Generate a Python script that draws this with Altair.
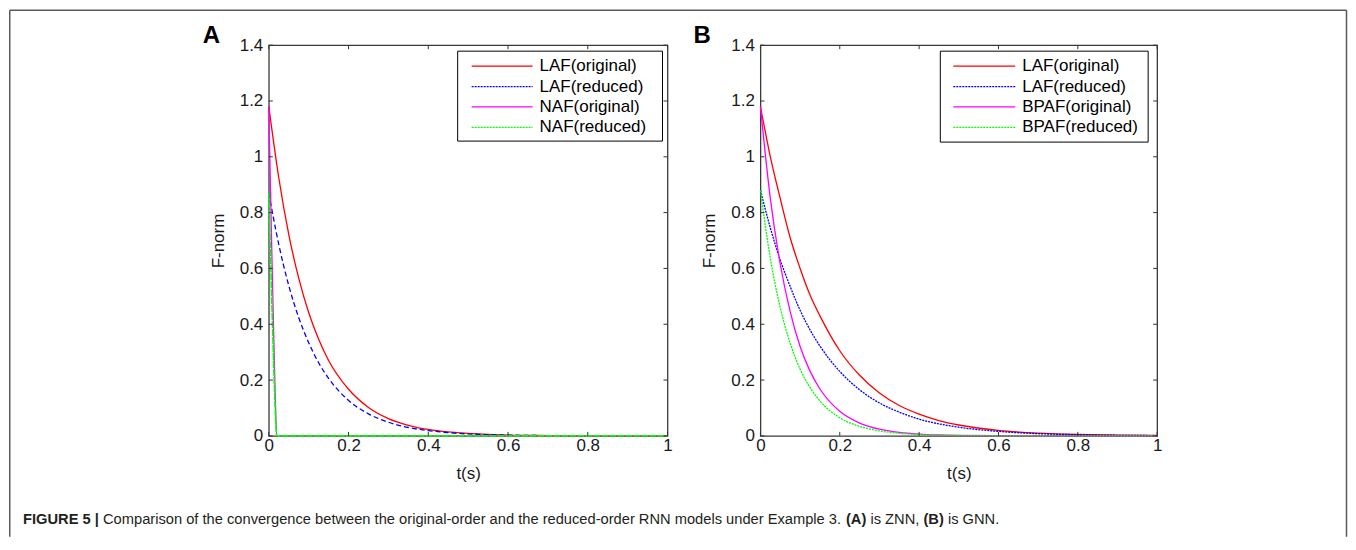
import altair as alt
import pandas as pd

# ---------------- data ----------------
x_ticks = [0, 0.2, 0.4, 0.6, 0.8, 1]
y_ticks = [0, 0.2, 0.4, 0.6, 0.8, 1, 1.2, 1.4]

t_main = [0, 0.025, 0.05, 0.075, 0.1, 0.125, 0.15, 0.2, 0.25, 0.3, 0.35,
          0.4, 0.45, 0.5, 0.6, 0.7, 0.8, 0.9, 1.0]

# Panel A (ZNN)
a_laf_orig = [1.18, 0.925, 0.722, 0.565, 0.442, 0.346, 0.270, 0.167, 0.102, 0.062, 0.038,
              0.023, 0.014, 0.009, 0.003, 0.0012, 0.0005, 0.0002, 0.0001]
a_laf_red = [0.87, 0.686, 0.539, 0.424, 0.334, 0.262, 0.206, 0.127, 0.079, 0.049, 0.030,
             0.019, 0.0115, 0.007, 0.0027, 0.001, 0.0004, 0.0002, 0.0001]
t_naf = [0, 0.004, 0.008, 0.012, 0.016, 0.02, 0.03, 0.1, 0.2, 0.4, 0.6, 0.8, 1.0]
a_naf_orig = [1.18, 0.90, 0.63, 0.38, 0.15, 0.0, 0, 0, 0, 0, 0, 0, 0]
a_naf_red = [0.87, 0.66, 0.46, 0.27, 0.10, 0.0, 0, 0, 0, 0, 0, 0, 0]

# Panel B (GNN)
b_laf_orig = [1.18, 1.00, 0.85, 0.71, 0.60, 0.505, 0.43, 0.305, 0.217, 0.154, 0.109,
              0.078, 0.055, 0.039, 0.0198, 0.010, 0.005, 0.0026, 0.0013]
b_laf_red = [0.88, 0.745, 0.63, 0.535, 0.45, 0.38, 0.322, 0.231, 0.165, 0.118, 0.085,
             0.060, 0.043, 0.031, 0.016, 0.008, 0.0042, 0.0021, 0.0011]
b_bpaf_orig = [1.18, 0.85, 0.615, 0.445, 0.32, 0.232, 0.168, 0.088, 0.046, 0.024, 0.0125,
               0.0065, 0.0034, 0.0018, 0.0005, 0.0001, 0, 0, 0]
b_bpaf_red = [0.88, 0.636, 0.459, 0.332, 0.239, 0.173, 0.125, 0.065, 0.034, 0.018, 0.0093,
              0.0049, 0.0025, 0.0013, 0.0004, 0.0001, 0, 0, 0]

names_A = ["LAF(original)", "LAF(reduced)", "NAF(original)", "NAF(reduced)"]
names_B = ["LAF(original)", "LAF(reduced)", "BPAF(original)", "BPAF(reduced)"]

caption_parts = [
    ("FIGURE 5 |", "bold"),
    ("Comparison of the convergence between the original-order and the reduced-order RNN models under Example 3.", "normal"),
    ("(A)", "bold"),
    ("is ZNN,", "normal"),
    ("(B)", "bold"),
    ("is GNN.", "normal"),
]

# ---------------- styling ----------------
FONT = "Liberation Sans, Arial, sans-serif"
W_A, W_B, H = 399, 397, 391
RED, BLUE, MAG, GRN = "#ff0000", "#0000ff", "#ff00ff", "#00ff00"

styles_A = [(RED, [1, 0], 1.3), (BLUE, [5, 3], 1.3), (MAG, [1, 0], 1.3), (GRN, [7, 1], 1.6)]
styles_B = [(RED, [1, 0], 1.3), (BLUE, [2, 1], 1.3), (MAG, [1, 0], 1.3), (GRN, [2, 1], 1.3)]
legend_dash = [[1, 0], [2, 1], [1, 0], [2, 1]]

dummy = pd.DataFrame({"d": [0]})


def x_enc():
    return alt.X("t:Q", scale=alt.Scale(domain=[0, 1], nice=False, zero=False),
                 axis=alt.Axis(values=x_ticks, format="~g", title="t(s)", labelFlush=False,
                               labelPadding=2, titlePadding=12))


def y_enc():
    return alt.Y("v:Q", scale=alt.Scale(domain=[0, 1.4], nice=False),
                 axis=alt.Axis(values=y_ticks, format="~g", title="F-norm", labelFlush=False,
                               labelPadding=6, titlePadding=12))


def line_layer(ts, vs, color, dash, sw):
    df = pd.DataFrame({"t": ts, "v": vs})
    kw = dict(color=color, strokeWidth=sw, interpolate="monotone")
    if dash != [1, 0]:
        kw["strokeDash"] = dash
    return alt.Chart(df).mark_line(**kw).encode(x=x_enc(), y=y_enc())


def tick_layers(W):
    xt = pd.DataFrame({"t": x_ticks})
    yt = pd.DataFrame({"v": y_ticks})
    c = "#333333"
    return [
        alt.Chart(xt).mark_rule(color=c, strokeWidth=1).encode(x=x_enc(), y=alt.value(H), y2=alt.value(H - 4)),
        alt.Chart(xt).mark_rule(color=c, strokeWidth=1).encode(x=x_enc(), y=alt.value(0), y2=alt.value(4)),
        alt.Chart(yt).mark_rule(color=c, strokeWidth=1).encode(y=y_enc(), x=alt.value(0), x2=alt.value(4)),
        alt.Chart(yt).mark_rule(color=c, strokeWidth=1).encode(y=y_enc(), x=alt.value(W), x2=alt.value(W - 4)),
    ]


def legend_layers(names, styles, box, line_x, text_x):
    layers = [alt.Chart(dummy).mark_rect(fill="white", stroke="black", strokeWidth=1).encode(
        x=alt.value(box[0]), x2=alt.value(box[1]), y=alt.value(box[2]), y2=alt.value(box[3]))]
    y0, pitch = 21, 20.4
    for i, (nm, st) in enumerate(zip(names, styles)):
        col = st[0]
        yy = y0 + i * pitch
        kw = dict(color=col, strokeWidth=1.3)
        if legend_dash[i] != [1, 0]:
            kw["strokeDash"] = legend_dash[i]
        layers.append(alt.Chart(dummy).mark_rule(**kw).encode(
            x=alt.value(line_x[0]), x2=alt.value(line_x[1]), y=alt.value(yy)))
        layers.append(alt.Chart(dummy).mark_text(text=nm, align="left", baseline="middle",
                                                 font=FONT, fontSize=17, color="black").encode(
            x=alt.value(text_x), y=alt.value(yy)))
    return layers


def panel_label(txt, dx):
    return alt.Chart(dummy).mark_text(text=txt, align="left", baseline="alphabetic", font=FONT,
                                      fontSize=24, fontWeight="bold", color="black").encode(
        x=alt.value(dx), y=alt.value(-1.7))


# caption widths (Arial / Liberation Sans metrics)
REG = {' ': 278, 'a': 556, 'b': 556, 'c': 500, 'd': 556, 'e': 556, 'f': 278, 'g': 556, 'h': 556,
       'i': 222, 'l': 222, 'm': 833, 'n': 556, 'o': 556, 'p': 556, 'r': 333, 's': 500, 't': 278,
       'u': 556, 'v': 500, 'w': 722, 'x': 500, 'y': 500, 'C': 722, 'E': 667, 'G': 778, 'N': 722,
       'R': 722, 'Z': 611, '3': 556, '.': 278, ',': 278, '-': 333}
BOLD = {'F': 611, 'I': 278, 'G': 778, 'U': 722, 'R': 722, 'E': 667, ' ': 278, '5': 556, '|': 280,
        '(': 333, ')': 333, 'A': 722, 'B': 722}


def text_w(s, weight, fs):
    tbl = BOLD if weight == "bold" else REG
    return sum(tbl.get(ch, 556) for ch in s) * fs / 1000.0


def caption_layers():
    fs = 14.7
    x = 22 - 268
    y = 523.5 - 44
    out = []
    for s, wt in caption_parts:
        out.append(alt.Chart(dummy).mark_text(text=s, align="left", baseline="alphabetic", font=FONT,
                                              fontSize=fs, fontWeight=wt, color="#231f20").encode(
            x=alt.value(x), y=alt.value(y)))
        x += text_w(s, wt, fs) + 278 * fs / 1000.0
    return out


def border_layers():
    c, sw = "#5a5a5a", 1.5
    L, R, T, B = -259.25, 1078.5, -35, 492
    return [
        alt.Chart(dummy).mark_rule(color=c, strokeWidth=sw).encode(x=alt.value(L), x2=alt.value(R), y=alt.value(T)),
        alt.Chart(dummy).mark_rule(color=c, strokeWidth=sw).encode(x=alt.value(L), y=alt.value(T), y2=alt.value(B)),
        alt.Chart(dummy).mark_rule(color=c, strokeWidth=sw).encode(x=alt.value(R), y=alt.value(T), y2=alt.value(B)),
    ]


lines_A = [
    line_layer(t_main, a_laf_orig, *styles_A[0]),
    line_layer(t_main, a_laf_red, *styles_A[1]),
    line_layer(t_naf, a_naf_orig, *styles_A[2]),
    line_layer(t_naf, a_naf_red, *styles_A[3]),
]
lines_B = [
    line_layer(t_main, b_laf_orig, *styles_B[0]),
    line_layer(t_main, b_laf_red, *styles_B[1]),
    line_layer(t_main, b_bpaf_orig, *styles_B[2]),
    line_layer(t_main, b_bpaf_red, *styles_B[3]),
]

panel_A = alt.layer(
    *lines_A, *tick_layers(W_A),
    *legend_layers(names_A, styles_A, (189, 394, 6, 96), (203, 264), 271),
    panel_label("A", -66), *caption_layers(), *border_layers(),
).properties(width=W_A, height=H)

panel_B = alt.layer(
    *lines_B, *tick_layers(W_B),
    *legend_layers(names_B, styles_B, (180, 388, 6, 97), (193, 255), 262),
    panel_label("B", -67),
).properties(width=W_B, height=H)

chart = alt.hconcat(panel_A, panel_B, spacing=93, bounds="flush").properties(
    padding=0, background="white"
).configure_view(stroke="#3a3a3a", strokeWidth=1.3).configure_axis(
    domain=False, ticks=False, tickSize=0, grid=False,
    labelFont=FONT, labelFontSize=17, labelColor="#1a1a1a",
    titleFont=FONT, titleFontSize=17, titleFontWeight="normal", titleColor="#1a1a1a",
)

chart.save("out.html", embed_options={"renderer": "svg", "actions": False})
